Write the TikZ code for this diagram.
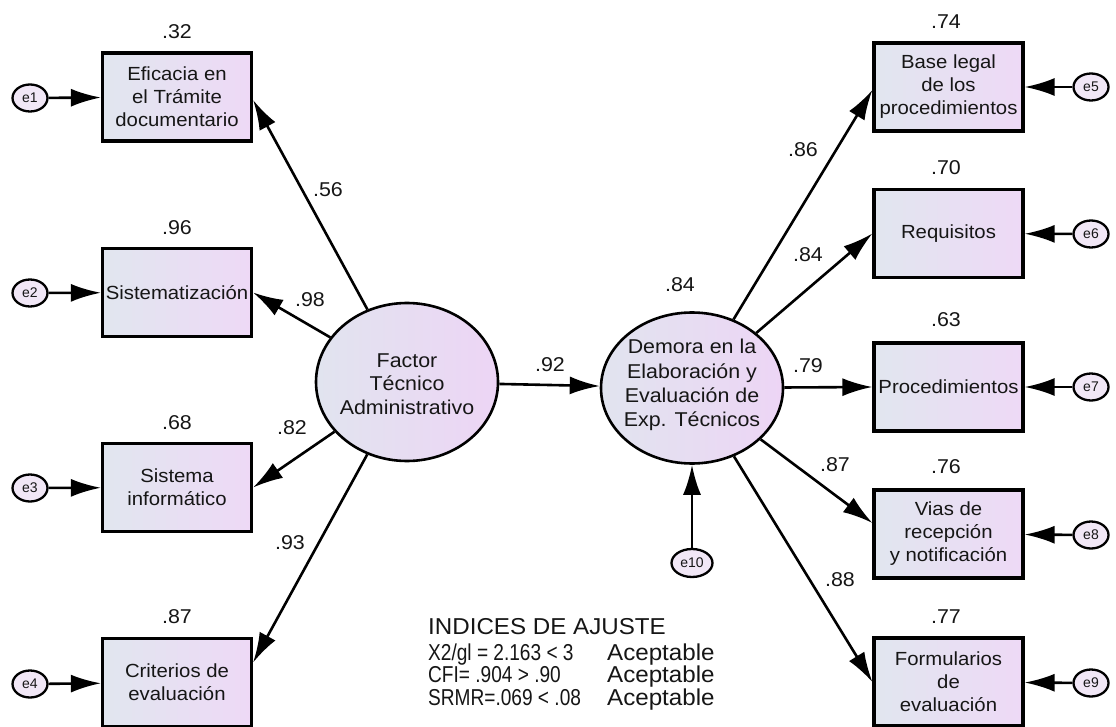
\documentclass[tikz,border=0pt]{standalone}
\usepackage{fontspec}
\setmainfont{Liberation Sans}
\newfontfamily\boxfont{Liberation Sans}[FakeStretch=1.07]
\newfontfamily\widefont{Liberation Sans}[FakeStretch=1.05]
\newfontfamily\narrowfont{Liberation Sans}[FakeStretch=0.83]
\usetikzlibrary{arrows.meta,shapes.geometric}
\definecolor{boxL}{RGB}{225,230,239}
\definecolor{boxR}{RGB}{238,217,246}
\definecolor{ellL}{RGB}{225,228,239}
\definecolor{ellR}{RGB}{237,213,245}
\definecolor{errfill}{RGB}{241,231,246}
\definecolor{ink}{RGB}{22,22,22}
\begin{document}
\begin{tikzpicture}[x=1pt,y=-1pt,
  obsbox/.style={draw, line width=3.2pt, rectangle, minimum width=149pt, minimum height=88pt,
    inner sep=0pt, left color=boxL, right color=boxR, align=center, text=ink,
    font=\boxfont\fontsize{19}{23}\selectfont},
  latent/.style={draw, ellipse, line width=2.6pt, minimum width=182pt, inner sep=0pt,
    left color=ellL, right color=ellR},
  lattext/.style={align=center, text=ink, inner sep=0pt},
  errnode/.style={draw, ellipse, line width=2.3pt, minimum width=35pt, minimum height=27pt,
    inner sep=0pt, fill=errfill, text=ink, font=\fontsize{14}{14}\selectfont},
  arr/.style={draw, line width=2.6pt, -{Latex[length=30pt,width=18pt]}},
  num/.style={inner sep=0pt, text=ink, font=\boxfont\fontsize{20}{20}\selectfont}
]
\useasboundingbox (0,0) rectangle (1116,727);
\fill[white] (0,0) rectangle (1116,727);

% latent variables
\node[latent, minimum height=158pt] (f1) at (407,382) {};
\node[lattext, font=\boxfont\fontsize{20}{23.3}\selectfont] (f1t) at (407,384) {Factor\\Técnico\\Administrativo};
\node[latent, minimum height=151pt] (f2) at (692,388) {};
\node[lattext, font=\boxfont\fontsize{20}{24.3}\selectfont] (f2t) at (692,385) {Demora en la\\Elaboración y\\Evaluación de\\Exp. Técnicos};

% left indicators
\node[obsbox] (b1) at (177,97) {Eficacia en\\el Trámite\\documentario};
\node[obsbox] (b2) at (177,292.5) {Sistematización};
\node[obsbox] (b3) at (177,487.5) {Sistema\\informático};
\node[obsbox] (b4) at (177,682.5) {Criterios de\\evaluación};

% right indicators
\node[obsbox] (b5) at (948.5,87) {Base legal\\de los\\procedimientos};
\node[obsbox] (b6) at (948.5,233.5) {Requisitos};
\node[obsbox] (b7) at (948.5,387) {Procedimientos};
\node[obsbox] (b8) at (948.5,534) {Vias de\\recepción\\y notificación};
\node[obsbox] (b9) at (948.5,682) {Formularios\\de\\evaluación};

% error terms
\node[errnode] (e1) at (30,98) {e1};
\node[errnode] (e2) at (30,293) {e2};
\node[errnode] (e3) at (30,488) {e3};
\node[errnode] (e4) at (30,684) {e4};
\node[errnode] (e5) at (1091,87) {e5};
\node[errnode] (e6) at (1091,234) {e6};
\node[errnode] (e7) at (1091,387) {e7};
\node[errnode] (e8) at (1091,535) {e8};
\node[errnode] (e9) at (1091,683) {e9};
\node[errnode, minimum width=41pt, minimum height=28pt] (e10) at (692,563) {e10};

% squared multiple correlations
\node[num] (r1) at (177,32) {.32};
\node[num] (r2) at (177,228) {.96};
\node[num] (r3) at (177,423) {.68};
\node[num] (r4) at (177,617) {.87};
\node[num] (r5) at (946,22) {.74};
\node[num] (r6) at (946,168) {.70};
\node[num] (r7) at (946,320) {.63};
\node[num] (r8) at (946,467) {.76};
\node[num] (r9) at (946,617) {.77};
\node[num] (r10) at (680,285) {.84};

% error arrows
\draw[arr] (e1) -- (b1);
\draw[arr] (e2) -- (b2);
\draw[arr] (e3) -- (b3);
\draw[arr] (e4) -- (b4);
\draw[arr] (e5) -- (b5);
\draw[arr] (e6) -- (b6);
\draw[arr] (e7) -- (b7);
\draw[arr] (e8) -- (b8);
\draw[arr] (e9) -- (b9);
\draw[arr] (e10) -- (f2);

% loadings
\draw[arr] (f1) -- ([yshift=-3pt]b1.east);
\draw[arr] (f1) -- (b2.east);
\draw[arr] (f1) -- (b3.east);
\draw[arr] (f1) -- ([yshift=20pt]b4.east);
\draw[arr] (f1) -- (f2);
\draw[arr] (f2) -- ([yshift=-3pt]b5.west);
\draw[arr] (f2) -- (b6.west);
\draw[arr] (f2) -- (b7.west);
\draw[arr] (f2) -- ([yshift=11pt]b8.west);
\draw[arr] (f2) -- (b9.west);

% loading labels
\node[num] (l1) at (328,190) {.56};
\node[num] (l2) at (310,300) {.98};
\node[num] (l3) at (292,428) {.82};
\node[num] (l4) at (290,543) {.93};
\node[num] (l5) at (550,365) {.92};
\node[num] (l6) at (803,150) {.86};
\node[num] (l7) at (808,255) {.84};
\node[num] (l8) at (808,366) {.79};
\node[num] (l9) at (835,465) {.87};
\node[num] (l10) at (840,580) {.88};

% fit indices
\node[inner sep=0pt, text=ink, anchor=base, font=\widefont\fontsize{23}{23}\selectfont] (fitt) at (547,634) {INDICES DE AJUSTE};
\node[inner sep=0pt, text=ink, anchor=west, align=left, font=\fontsize{23}{22.5}\selectfont] (fitv) at (428,677)
  {\makebox[179pt][l]{\narrowfont X2/gl = 2.163 < 3}{\widefont Aceptable}\\
   \makebox[179pt][l]{\narrowfont CFI= .904 > .90}{\widefont Aceptable}\\
   \makebox[179pt][l]{\narrowfont SRMR=.069 < .08}{\widefont Aceptable}};
\end{tikzpicture}
\end{document}
